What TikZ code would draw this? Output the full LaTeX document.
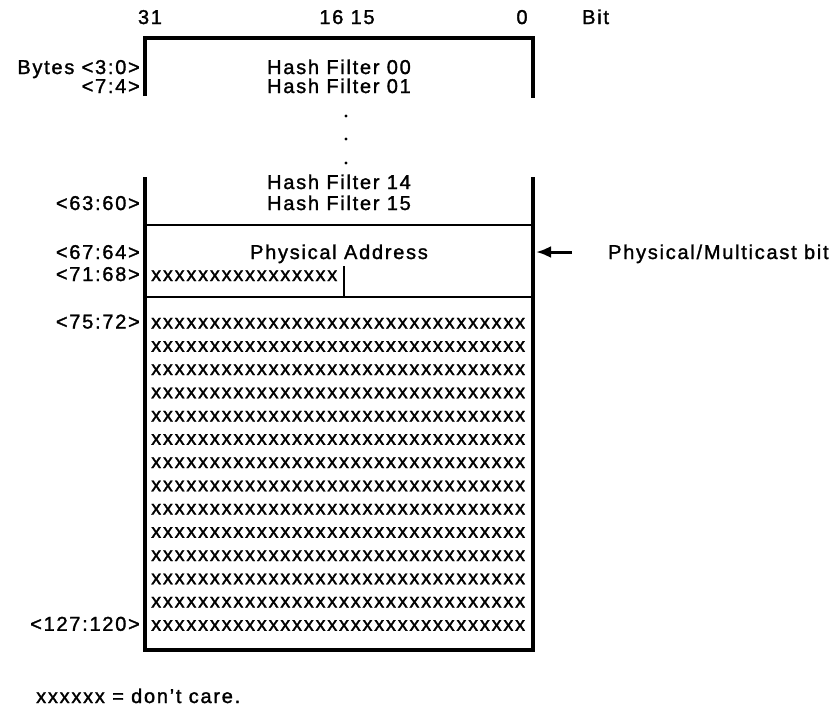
\documentclass[tikz,border=0pt]{standalone}
\usepackage{fontspec}
\setmainfont[LetterSpace=8.7,FakeBold=1.5]{Liberation Sans}
\usetikzlibrary{arrows.meta}
\tikzset{
  lbl/.style={font=\fontsize{20}{21}\selectfont, inner sep=0pt, anchor=base},
  rlbl/.style={lbl, anchor=base east},
  llbl/.style={lbl, anchor=base west},
  heavy/.style={line width=3.3pt},
  light/.style={line width=2.2pt},
}
\newcommand{\xrow}{xxxxxxxxxxxxxxxxxxxxxxxxxxxxxxxx}
\newcommand{\xhalf}{xxxxxxxxxxxxxxxx}

\begin{document}
\begin{tikzpicture}[x=1pt,y=-1pt]
\useasboundingbox (0,0) rectangle (835,710);
% bit numbers
\node[lbl] (b31) at (150,24) {31};
\node[lbl] (b16) at (347,24) {16 15};
\node[lbl] (b0) at (522,24) {0};
\node[llbl] (bit) at (582,24) {Bit};
% upper part of the register block
\draw[heavy] (145,96) -- (145,38) -- (533,38) -- (533,98);
\node[rlbl] (by0) at (140,74) {Bytes <3:0>};
\node[rlbl] (by1) at (140,93) {<7:4>};
\node[lbl] (hf00) at (339,74) {Hash Filter 00};
\node[lbl] (hf01) at (339,93) {Hash Filter 01};
\foreach \y in {116,139,163} \fill (346,\y) circle (1.7);
% lower part
\draw[heavy] (145,177) -- (145,650) -- (533,650) -- (533,177);
\node[lbl] (hf14) at (339,189) {Hash Filter 14};
\node[lbl] (hf15) at (339,210) {Hash Filter 15};
\node[rlbl] (by15) at (140,210) {<63:60>};
\draw[light] (145,225) -- (533,225);
\node[lbl] (phys) at (339,259) {Physical Address};
\node[rlbl] (by16) at (140,259) {<67:64>};
\node[llbl] (xs17) at (151,281) {\xhalf};
\node[rlbl] (by17) at (140,281) {<71:68>};
\draw[line width=1.8pt] (344,266) -- (344,297);
\draw[light] (145,297) -- (533,297);
\foreach \i in {0,...,13}
  \node[llbl] (row\i) at (151,{328.5+23.25*\i}) {\xrow};
\node[rlbl] (by18) at (140,328.5) {<75:72>};
\node[rlbl] (by31) at (140,630.75) {<127:120>};
% multicast bit pointer
\coordinate (pmb) at (536,252);
\node[llbl] (pmlbl) at (608,259) {Physical/Multicast bit};
\draw[line width=3pt, -{Latex[length=15pt,width=12pt]}] (572,252) -- (pmb);
% note
\node[llbl] (note) at (36,703) {xxxxxx = don't care.};
\end{tikzpicture}
\end{document}
